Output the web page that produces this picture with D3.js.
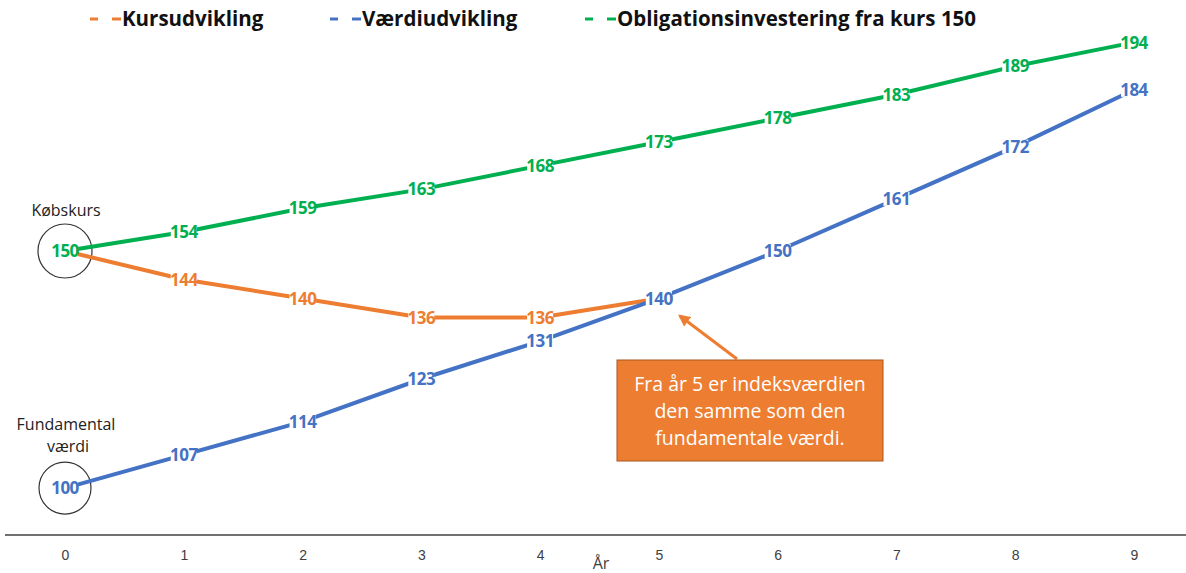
<!DOCTYPE html>
<html>
<head>
<meta charset="utf-8">
<title>Kursudvikling</title>
<script src="https://cdn.jsdelivr.net/npm/d3@7"></script>
<style>
  body { margin: 0; background: #fff; }
  svg { font-family: "Open Sans", "Noto Sans", sans-serif; }
  .tick text { fill: #404040; font-size: 14px; }
</style>
</head>
<body>
<svg id="chart" width="1186" height="573"></svg>
<script>
// data
var years = [0, 1, 2, 3, 4, 5, 6, 7, 8, 9];
var kurs = [150, 144, 140, 136, 136, 140];
var vaerdi = [100, 107, 114, 123, 131, 140, 150, 161, 172, 184];
var obligation = [150, 154, 159, 163, 168, 173, 178, 183, 189, 194];
var seriesNames = ["Kursudvikling", "Værdiudvikling", "Obligationsinvestering fra kurs 150"];
var seriesColors = ["#ED7D31", "#4472C4", "#00B050"];
var note = ["Fra år 5 er indeksværdien", "den samme som den", "fundamentale værdi."];

var svg = d3.select("#chart");

var x = d3.scaleLinear().domain([0, 9]).range([65, 1134]);
var y = d3.scaleLinear().domain([90.1, 150]).range([535, 251]);

// x axis
var xAxis = svg.append("g")
    .attr("transform", "translate(0,535)")
    .call(d3.axisBottom(x).tickValues(years).tickSize(0).tickPadding(15));
xAxis.select(".domain").remove();
svg.append("line")
    .attr("x1", 5).attr("x2", 1186)
    .attr("y1", 535).attr("y2", 535)
    .attr("stroke", "#404040").attr("stroke-width", 1.3);
svg.append("text")
    .attr("x", 601).attr("y", 569)
    .attr("text-anchor", "middle")
    .attr("font-size", 16).attr("fill", "#404040")
    .text("År");

var series = [kurs, vaerdi, obligation];
var line = d3.line()
    .x(function (d, i) { return x(years[i]); })
    .y(function (d) { return y(d); });

// circles round start values
[[150, 27], [100, 26]].forEach(function (c) {
  svg.append("circle")
    .attr("cx", x(0)).attr("cy", y(c[0])).attr("r", c[1])
    .attr("fill", "none").attr("stroke", "#333").attr("stroke-width", 1.2);
});
svg.append("text").attr("x", 66).attr("y", 216)
    .attr("text-anchor", "middle").attr("font-size", 16).attr("fill", "#222")
    .text("Købskurs");
svg.append("text").attr("x", 66).attr("y", 430)
    .attr("text-anchor", "middle").attr("font-size", 16).attr("fill", "#222")
    .text("Fundamental");
svg.append("text").attr("x", 68).attr("y", 452)
    .attr("text-anchor", "middle").attr("font-size", 16).attr("fill", "#222")
    .text("værdi");

// lines
series.forEach(function (s, k) {
  svg.append("path")
    .datum(s)
    .attr("d", line)
    .attr("fill", "none")
    .attr("stroke", seriesColors[k])
    .attr("stroke-width", 4);
});

// labels with white backing
series.forEach(function (s, k) {
  var lab = svg.append("g").selectAll("g")
    .data(s)
    .enter().append("g")
    .attr("transform", function (d, i) { return "translate(" + x(years[i]) + "," + y(d) + ")"; });
  lab.append("rect")
    .attr("x", -13).attr("y", -7).attr("width", 26).attr("height", 14)
    .attr("fill", "#fff");
  lab.append("text")
    .attr("dy", "0.36em")
    .attr("text-anchor", "middle")
    .attr("font-size", 17)
    .attr("font-weight", "bold")
    .attr("letter-spacing", -0.5)
    .attr("fill", seriesColors[k])
    .text(function (d) { return d; });
});

// legend
var legendX = [90, 330, 585];
series.forEach(function (s, k) {
  var g = svg.append("g").attr("transform", "translate(" + legendX[k] + ",19)");
  g.append("line").attr("x1", 0).attr("x2", 8).attr("y1", 0).attr("y2", 0)
    .attr("stroke", seriesColors[k]).attr("stroke-width", 3);
  g.append("line").attr("x1", 22).attr("x2", 31).attr("y1", 0).attr("y2", 0)
    .attr("stroke", seriesColors[k]).attr("stroke-width", 3);
  g.append("text").attr("x", 32).attr("y", 0).attr("dy", "0.36em")
    .attr("font-size", 20.5).attr("font-weight", "bold").attr("fill", "#111")
    .text(seriesNames[k]);
});

// annotation arrow
svg.append("defs").append("marker")
    .attr("id", "arrow").attr("viewBox", "0 0 10 10")
    .attr("refX", 8).attr("refY", 5)
    .attr("markerWidth", 4).attr("markerHeight", 4)
    .attr("orient", "auto")
  .append("path").attr("d", "M0,0 L10,5 L0,10 z").attr("fill", "#ED7D31");
svg.append("line")
    .attr("x1", 737).attr("y1", 359).attr("x2", 680).attr("y2", 316)
    .attr("stroke", "#ED7D31").attr("stroke-width", 3)
    .attr("marker-end", "url(#arrow)");

svg.append("rect")
    .attr("x", 617).attr("y", 360).attr("width", 266).attr("height", 101)
    .attr("fill", "#ED7D31").attr("stroke", "#A9561E").attr("stroke-width", 1);
svg.append("g").selectAll("text")
    .data(note)
    .enter().append("text")
    .attr("x", 750)
    .attr("y", function (d, i) { return 391 + i * 27; })
    .attr("text-anchor", "middle")
    .attr("font-size", 19.5)
    .attr("fill", "#fff")
    .text(function (d) { return d; });
</script>
</body>
</html>
